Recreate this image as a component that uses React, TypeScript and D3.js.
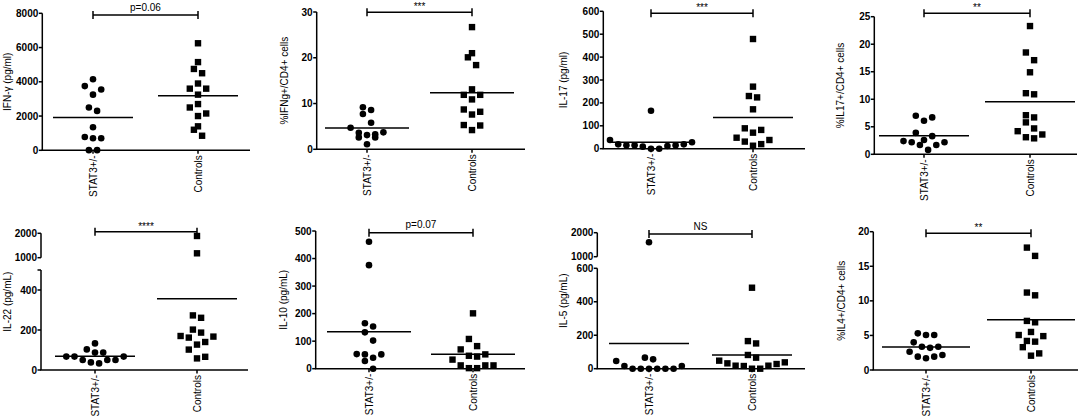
import React from 'react';
import * as d3 from 'd3';

// ---------- data ----------
const GROUPS = ['STAT3+/-', 'Controls'];

const TITLES = [
  'IFN-γ (pg/ml)',
  '%IFNg+/CD4+ cells',
  'IL-17 (pg/ml)',
  '%IL17+/CD4+ cells',
  'IL-22 (pg/mL)',
  'IL-10 (pg/mL)',
  'IL-5 (pg/mL)',
  '%IL4+/CD4+ cells',
];
const SIGNIF = ['p=0.06', '***', '***', '**', '****', 'p=0.07', 'NS', '**'];

const IFNG_STAT = [4150, 3750, 3550, 3250, 2500, 2300, 1350, 780, 700, 700, 10, 10];
const IFNG_CTRL = [6250, 5150, 4750, 4500, 3900, 3600, 3600, 3250, 2700, 2500, 2150, 2000, 1400, 1200, 850];
const PIFNG_STAT = [9.2, 8.6, 7.7, 5.8, 4.7, 3.7, 3.6, 3.3, 3.1, 2.6, 2.6, 1.1];
const PIFNG_CTRL = [26.7, 21.0, 20.1, 18.4, 13.1, 11.9, 11.9, 10.9, 8.7, 8.2, 7.6, 5.3, 5.2, 4.2];
const IL17_STAT = [166, 38, 28, 19, 19, 15, 15, 15, 12, 9, 0, 0];
const IL17_CTRL = [479, 271, 230, 224, 172, 89, 82, 70, 48, 38, 31, 20, 13];
const PIL17_STAT = [7.0, 6.7, 6.1, 3.9, 3.3, 2.6, 2.4, 2.2, 2.2, 1.7, 1.7, 0.8];
const PIL17_CTRL = [23.3, 18.5, 17.1, 14.9, 11.1, 10.9, 7.1, 6.7, 5.8, 4.7, 4.2, 3.6, 3.1, 2.9];
const IL22_STAT = [133, 103, 87, 87, 67, 67, 67, 50, 50, 50, 38, 33];
const IL22_CTRL = [1890, 1180, 273, 261, 202, 187, 170, 167, 162, 140, 127, 102, 66, 58];
const IL10_STAT = [461, 376, 165, 153, 132, 102, 53, 52, 52, 40, 28, 0];
const IL10_CTRL = [201, 108, 82, 70, 52, 47, 44, 33, 12, 12, 12, 2, 2];
const IL5_STAT = [1600, 66, 56, 46, 16, 16, 0, 0, 0, 0, 0, 0];
const IL5_CTRL = [484, 165, 151, 82, 66, 48, 38, 32, 28, 18, 18, 16, 0, 0];
const PIL4_STAT = [5.3, 5.06, 5.06, 4.0, 3.37, 3.37, 3.2, 2.65, 2.17, 1.93, 1.93, 1.69];
const PIL4_CTRL = [17.7, 16.5, 11.2, 10.8, 7.1, 6.9, 5.5, 5.06, 4.9, 4.2, 4.1, 3.3, 2.4, 2.07];

const SERIES = [
  [IFNG_STAT, IFNG_CTRL],
  [PIFNG_STAT, PIFNG_CTRL],
  [IL17_STAT, IL17_CTRL],
  [PIL17_STAT, PIL17_CTRL],
  [IL22_STAT, IL22_CTRL],
  [IL10_STAT, IL10_CTRL],
  [IL5_STAT, IL5_CTRL],
  [PIL4_STAT, PIL4_CTRL],
];

// axis domains and ticks (each broken axis has lower and upper segment)
const IFNG_TICKS = [0, 2000, 4000, 6000, 8000];
const PIFNG_TICKS = [0, 10, 20, 30];
const IL17_TICKS = [0, 100, 200, 300, 400, 500, 600];
const PIL17_TICKS = [0, 5, 10, 15, 20, 25];
const IL22_LOW_TICKS = [0, 200, 400, 500];
const IL22_HIGH_TICKS = [1000, 2000];
const IL10_TICKS = [0, 100, 200, 300, 400, 500];
const IL5_LOW_TICKS = [0, 200, 400, 600];
const IL5_HIGH_TICKS = [1000, 2000];
const PIL4_TICKS = [0, 5, 10, 15, 20];
const UNLABELED = [[], [], [], [], [500], [], [], []];

const AXES = [
  [{ domain: [0, 8000], ticks: IFNG_TICKS }],
  [{ domain: [0, 30], ticks: PIFNG_TICKS }],
  [{ domain: [0, 600], ticks: IL17_TICKS }],
  [{ domain: [0, 25], ticks: PIL17_TICKS }],
  [{ domain: [0, 500], ticks: IL22_LOW_TICKS }, { domain: [1000, 2000], ticks: IL22_HIGH_TICKS }],
  [{ domain: [0, 500], ticks: IL10_TICKS }],
  [{ domain: [0, 600], ticks: IL5_LOW_TICKS }, { domain: [1000, 2000], ticks: IL5_HIGH_TICKS }],
  [{ domain: [0, 20], ticks: PIL4_TICKS }],
];

// ---------- layout ----------
const LAYOUT = [
  { ax: 42.3, xEnd: 250, ranges: [[150.3, 13.3]], cx: [93, 198], by: 15, hw: 40, tdx: 35 },
  { ax: 316.7, xEnd: 525, ranges: [[149.3, 12]], cx: [367, 472], by: 12.3, hw: 42, tdx: 32 },
  { ax: 603.3, xEnd: 805, ranges: [[148.7, 11.3]], cx: [651, 753], by: 13.3, hw: 40, tdx: 40 },
  { ax: 874.3, xEnd: 1077, ranges: [[154.3, 16.7]], cx: [924, 1030], by: 13.3, hw: 45, tdx: 34 },
  { ax: 41, xEnd: 248, ranges: [[370, 270], [257.7, 233.3]], cx: [95, 197], by: 231.7, hw: 40, tdx: 34 },
  { ax: 315.7, xEnd: 525, ranges: [[368.7, 231]], cx: [369, 473], by: 232.7, hw: 42, tdx: 32 },
  { ax: 597.3, xEnd: 805, ranges: [[368.7, 268.3], [256.7, 232.7]], cx: [649, 752], by: 234, hw: 40, tdx: 34 },
  { ax: 873.3, xEnd: 1078, ranges: [[370, 231.7]], cx: [926, 1031], by: 233.3, hw: 44, tdx: 32 },
];

const FONT = '"Liberation Sans", Arial, Helvetica, sans-serif';
const SPACING = 8.2;
const ROW_H = 9;

function swarm(values: number[], yOf: (v: number) => number) {
  const pts = values.map((v, i) => ({ v, y: yOf(v), i, dx: 0 }));
  pts.sort((a, b) => b.y - a.y || a.i - b.i);
  let k = 0;
  while (k < pts.length) {
    const y0 = pts[k].y;
    let j = k;
    while (j < pts.length && y0 - pts[j].y < ROW_H) j++;
    const row = pts.slice(k, j);
    const n = row.length;
    row.forEach((p, r) => {
      let slot: number;
      if (n % 2 === 1) {
        if (r === 0) slot = 0;
        else slot = (r % 2 === 1 ? 1 : -1) * Math.ceil(r / 2);
      } else {
        slot = (r % 2 === 0 ? 1 : -1) * (Math.floor(r / 2) + 0.5);
      }
      p.dx = slot * SPACING;
    });
    k = j;
  }
  return pts;
}

function Panel({ idx }: { idx: number }) {
  const L = LAYOUT[idx];
  const segs = AXES[idx].map((s, si) => ({
    ...s,
    scale: d3.scaleLinear().domain(s.domain).range(L.ranges[si]),
  }));
  const yOf = (v: number) => {
    for (const s of segs) if (v <= s.domain[1]) return s.scale(v);
    return segs[segs.length - 1].scale(v);
  };
  const zero = L.ranges[0][0];
  const top = L.ranges[L.ranges.length - 1][1];
  const sig = SIGNIF[idx];
  const isStars = /^\*+$/.test(sig);
  const sw = 1.5;

  return (
    <g>
      {/* y axis segments */}
      {segs.map((s, si) => (
        <g key={si}>
          <line x1={L.ax} x2={L.ax} y1={s.scale(s.domain[0])} y2={s.scale(s.domain[1])} stroke="#000" strokeWidth={sw} />
          {s.ticks.map((t) => (
            <g key={t}>
              <line x1={L.ax - 3.5} x2={L.ax} y1={s.scale(t)} y2={s.scale(t)} stroke="#000" strokeWidth={sw} />
              {!UNLABELED[idx].includes(t) && (
                <text x={L.ax - 4} y={s.scale(t)} dy="0.35em" textAnchor="end" fontSize={10} fontWeight="bold" fontFamily={FONT}>
                  {t}
                </text>
              )}
            </g>
          ))}
        </g>
      ))}
      {/* x axis */}
      <line x1={L.ax - 0.75} x2={L.xEnd} y1={zero} y2={zero} stroke="#000" strokeWidth={sw} />
      {L.cx.map((c, gi) => (
        <g key={gi}>
          <line x1={c} x2={c} y1={zero} y2={zero + 3.5} stroke="#000" strokeWidth={sw} />
          <text transform={`translate(${c},${zero + 5}) rotate(-90)`} dy="0.35em" textAnchor="end" fontSize={10} fontFamily={FONT}>
            {GROUPS[gi]}
          </text>
        </g>
      ))}
      {/* y title */}
      <text transform={`translate(${L.ax - L.tdx},${(top + zero) / 2}) rotate(-90)`} dy="0.35em" textAnchor="middle" fontSize={10} fontFamily={FONT}>
        {TITLES[idx]}
      </text>
      {/* significance bracket */}
      <line x1={L.cx[0]} x2={L.cx[1]} y1={L.by} y2={L.by} stroke="#000" strokeWidth={sw} />
      <line x1={L.cx[0]} x2={L.cx[0]} y1={L.by - 4} y2={L.by + 4} stroke="#000" strokeWidth={sw} />
      <line x1={L.cx[1]} x2={L.cx[1]} y1={L.by - 4} y2={L.by + 4} stroke="#000" strokeWidth={sw} />
      <text x={(L.cx[0] + L.cx[1]) / 2} y={L.by - (isStars ? 2 : 4.5)} textAnchor="middle" fontSize={10} fontFamily={FONT}>
        {sig}
      </text>
      {/* points and means */}
      {SERIES[idx].map((vals, gi) => {
        const c = L.cx[gi];
        const pts = swarm(vals, yOf);
        const m = d3.mean(vals) as number;
        return (
          <g key={gi}>
            {pts.map((p, pi) =>
              gi === 0 ? (
                <circle key={pi} cx={c + p.dx} cy={p.y} r={3.3} fill="#000" />
              ) : (
                <rect key={pi} x={c + p.dx - 3.2} y={p.y - 3.2} width={6.4} height={6.4} fill="#000" />
              )
            )}
            <line x1={c - L.hw} x2={c + L.hw} y1={yOf(m)} y2={yOf(m)} stroke="#000" strokeWidth={sw} />
          </g>
        );
      })}
    </g>
  );
}

export default function App() {
  return (
    <svg width={1084} height={419} style={{ position: 'absolute', left: 0, top: 0, background: '#fff' }}>
      <rect width={1084} height={419} fill="#fff" />
      {LAYOUT.map((_, i) => (
        <Panel key={i} idx={i} />
      ))}
    </svg>
  );
}
